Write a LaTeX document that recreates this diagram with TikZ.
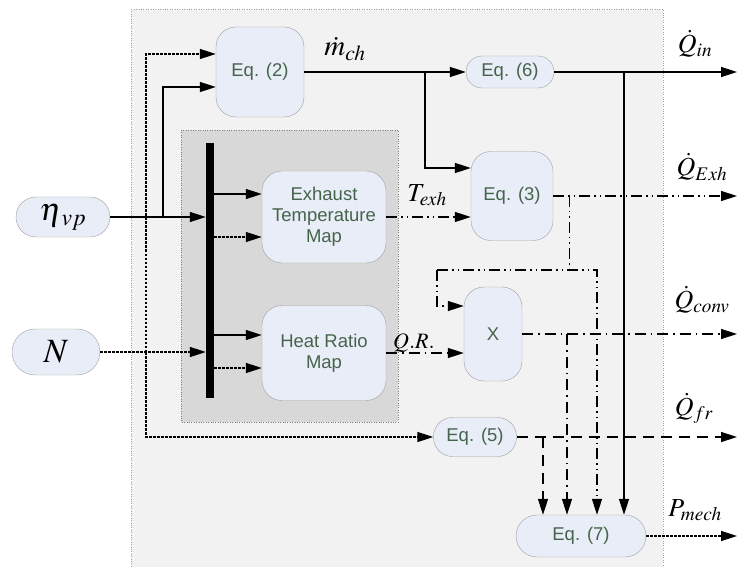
\documentclass[tikz,border=0pt]{standalone}
\usepackage{mathptmx}
\usepackage[no-math]{fontspec}
\setsansfont{Liberation Sans}
\usetikzlibrary{arrows.meta,calc,positioning}
\definecolor{boxfill}{RGB}{232,237,247}
\definecolor{boxline}{RGB}{160,160,160}
\definecolor{eqtext}{RGB}{70,100,75}
\definecolor{outerfill}{RGB}{242,242,242}
\definecolor{innerfill}{RGB}{216,216,216}
\tikzset{box/.style={draw=boxline,fill=boxfill,rounded corners=20pt,align=center,text=eqtext,inner sep=2pt,
    font=\sffamily\fontsize{18.5}{21}\selectfont},
  pill/.style={box,rounded corners=#1},
  arr/.style={-{Triangle[length=16pt,width=10pt]},line width=1.4pt},
  dots/.style={dash pattern=on 2.5pt off 1.5pt},
  longdash/.style={dash pattern=on 11pt off 7pt},
  dashdotdot/.style={dash pattern=on 11pt off 4pt on 1.5pt off 4pt on 1.5pt off 4pt},
  dashdot/.style={dash pattern=on 11pt off 5pt on 1.5pt off 5pt},
  lbl/.style={inner sep=0pt,font=\fontsize{26}{28}\selectfont}}

\begin{document}
\begin{tikzpicture}[x=1pt,y=-1pt]
\useasboundingbox (0,0) rectangle (737,567);
% background areas
\draw[boxline,dotted,fill=outerfill] (131,9) rectangle (663,567);
\draw[boxline!80!black,dotted,fill=innerfill] (181,130) rectangle (398,422);
\node[fill=black,inner sep=0pt,minimum width=8pt,minimum height=255pt] (bar) at (210,270.5) {};

% inputs
\node[pill=20pt,minimum width=94pt,minimum height=40pt,text=black] (eta) at (63,217)
  {\fontsize{32}{34}\selectfont$\eta_{\,vp}$};
\node[pill=23pt,minimum width=88pt,minimum height=46pt,text=black] (nN) at (56,352)
  {\fontsize{34}{36}\selectfont$N$};

% blocks
\node[box,minimum width=88pt,minimum height=90pt] (eqtwo) at (260,72) {Eq. (2)};
\node[box,minimum width=124pt,minimum height=92pt] (exh) at (324,217) {Exhaust\\Temperature\\Map};
\node[box,minimum width=124pt,minimum height=95pt] (hrm) at (324,353) {Heat Ratio\\Map};
\node[pill=16pt,minimum width=88pt,minimum height=32pt] (eqsix) at (510,72) {Eq. (6)};
\node[box,minimum width=82pt,minimum height=89pt] (eqthree) at (512,196) {Eq. (3)};
\node[box,minimum width=58pt,minimum height=94pt] (mult) at (493,334) {X};
\node[pill=19pt,minimum width=83pt,minimum height=39pt] (eqfive) at (475,437) {Eq. (5)};
\node[pill=21pt,minimum width=130pt,minimum height=42pt] (eqseven) at (581,536) {Eq. (7)};

% branch points and outputs
\coordinate (ja) at (163,217);
\coordinate (jn) at (146,352);
\coordinate (jm) at (425,72);
\coordinate (jq) at (624,72);
\coordinate (je) at (569,196);
\coordinate (jl) at (437,270);
\coordinate (jr) at (597,270);
\coordinate (jx) at (567,334);
\coordinate (jf) at (543,437);
\coordinate (oin) at (737,72);
\coordinate (oexh) at (737,196);
\coordinate (oconv) at (737,334);
\coordinate (ofr) at (737,437);
\coordinate (opm) at (737,536);

% connectors
\draw[arr] (eta) -- (eta -| bar.west);
\draw[arr] (ja) |- (eqtwo.west |- 0,87);
\draw[arr,dots] (nN) -- (nN -| bar.west);
\draw[arr,dots] (jn) |- (eqtwo.west |- 0,54);
\draw[arr,dots] (jn) |- (eqfive);
\draw[arr] (bar.east |- 0,194) -- (exh.west |- 0,194);
\draw[arr,dots] (bar.east |- 0,237) -- (exh.west |- 0,237);
\draw[arr] (bar.east |- 0,335) -- (hrm.west |- 0,335);
\draw[arr,dots] (bar.east |- 0,368) -- (hrm.west |- 0,368);

\draw[arr] (eqtwo) -- (eqsix);
\draw[arr] (jm) |- (eqthree.west |- 0,168);
\draw[arr] (eqsix) -- (oin);
\draw[arr] (jq) -- (jq |- eqseven.north);
\draw[arr,dashdotdot] (exh) -- (eqthree.west |- exh);
\draw[arr,dashdotdot] (eqthree) -- (oexh);
\draw[dashdotdot] (je) -- (je |- jl);
\draw[arr,dashdotdot] (jl) -- (jr) -- (jr |- eqseven.north);
\draw[arr,dashdotdot] (jl) |- (mult.west |- 0,306);
\draw[arr,dashdot] (hrm) -- (mult.west |- hrm);
\draw[arr,dashdot] (mult) -- (oconv);
\draw[arr,dashdot] (jx) -- (jx |- eqseven.north);
\draw[arr,longdash] (eqfive) -- (ofr);
\draw[arr,longdash] (jf) -- (jf |- eqseven.north);
\draw[arr,dots] (eqseven) -- (opm);

% signal labels
\node[lbl,font=\fontsize{29}{30}\selectfont] (lmch) at (345,49) {$\dot{m}_{ch}$};
\node[lbl] (ltexh) at (427,195) {$T_{exh}$};
\node[lbl,font=\fontsize{22}{24}\selectfont] (lqr) at (414,343) {$Q.R.$};
\node[lbl] (lqin) at (695,44) {$\dot{Q}_{in}$};
\node[lbl] (lqexh) at (702,167) {$\dot{Q}_{Exh}$};
\node[lbl] (lqconv) at (702,300) {$\dot{Q}_{conv}$};
\node[lbl] (lqfr) at (694,408) {$\dot{Q}_{fr}$};
\node[lbl] (lpm) at (695,510) {$P_{mech}$};
\end{tikzpicture}
\end{document}
